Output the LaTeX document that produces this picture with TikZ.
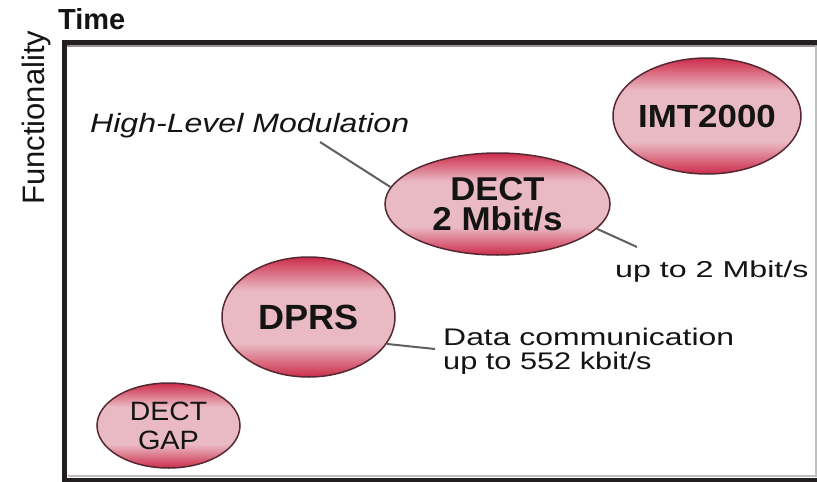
\documentclass[tikz,border=0pt]{standalone}
\usepackage{fontspec}
\setmainfont{Liberation Sans}
\usetikzlibrary{shapes.geometric}
\definecolor{ered}{RGB}{205,45,75}
\definecolor{epink}{RGB}{234,186,196}
\definecolor{eline}{RGB}{85,40,50}
\definecolor{frm}{RGB}{35,31,32}
\definecolor{frmgray}{RGB}{150,148,148}
\definecolor{connc}{RGB}{95,95,95}
\definecolor{txt}{RGB}{20,20,20}
\pgfdeclareverticalshading{ellred}{100bp}{color(0bp)=(ered); color(25bp)=(ered); color(39bp)=(epink); color(61bp)=(epink); color(75bp)=(ered); color(100bp)=(ered)}
\newcommand{\zw}[2]{\makebox[0pt][c]{\scalebox{#1}[1]{#2}}}
\newcommand{\hsc}[2]{\scalebox{#1}[1]{#2}}
\begin{document}
\begin{tikzpicture}[x=1pt,y=-1pt,
  bubble/.style={ellipse, draw=eline, line width=1.5pt, shading=ellred, inner sep=0pt, align=center, text=txt},
  lbl/.style={inner sep=0pt, anchor=base west, text=txt},
  connline/.style={draw=connc, line width=2pt}]
\useasboundingbox (0,0) rectangle (817,482);
% frame
\draw[frmgray, line width=1.5pt] (66,46) -- (817,46);
\draw[frmgray!60, line width=2pt] (68,476) -- (816,476) -- (816,46);
\draw[frm, line width=5pt] (817,42.5) -- (64.5,42.5) -- (64.5,480) -- (817,480);
% axis labels
\node[lbl, font=\fontsize{29}{30}\selectfont\bfseries] (time) at (58,29) {Time};
\node[lbl, rotate=90, font=\fontsize{31}{32}\selectfont] (func) at (45,205) {Functionality};
% bubbles
\node[bubble, minimum width=188pt, minimum height=116pt, font=\fontsize{32}{34}\selectfont\bfseries] (imt) at (707,116) {\zw{1.09}{IMT2000}};
\node[bubble, minimum width=225pt, minimum height=102pt, font=\fontsize{33}{30}\selectfont\bfseries] (dect2) at (497.5,204) {\zw{1.05}{DECT}\\\zw{1.06}{2 Mbit/s}};
\node[bubble, minimum width=173pt, minimum height=120pt, font=\fontsize{35}{36}\selectfont\bfseries] (dprs) at (308.5,317) {\zw{1.03}{DPRS}};
\node[bubble, minimum width=143pt, minimum height=85pt, font=\fontsize{26.5}{29}\selectfont] (gap) at (168.5,425.5) {\zw{1.07}{DECT}\\\zw{1.09}{GAP}};
% annotations
\node[lbl, font=\fontsize{26.5}{28}\selectfont\itshape] (hlm) at (90,132) {\hsc{1.21}{High-Level Modulation}};
\node[lbl, font=\fontsize{23}{24}\selectfont] (up2) at (615,277) {\hsc{1.4}{up to 2 Mbit/s}};
\node[inner sep=0pt, anchor=west, align=left, text=txt, font=\fontsize{24}{24}\selectfont] (dc) at (443,351) {\hsc{1.33}{Data communication}\\\hsc{1.28}{up to 552 kbit/s}};
% connectors
\coordinate (hlmend) at (320,142);
\coordinate (up2end) at (637,247);
\coordinate (dcend) at (435,349);
\draw[connline] (hlmend) -- (dect2.171);
\draw[connline] (dect2.-14) -- (up2end);
\draw[connline] (dprs.-19) -- (dcend);
\end{tikzpicture}
\end{document}
